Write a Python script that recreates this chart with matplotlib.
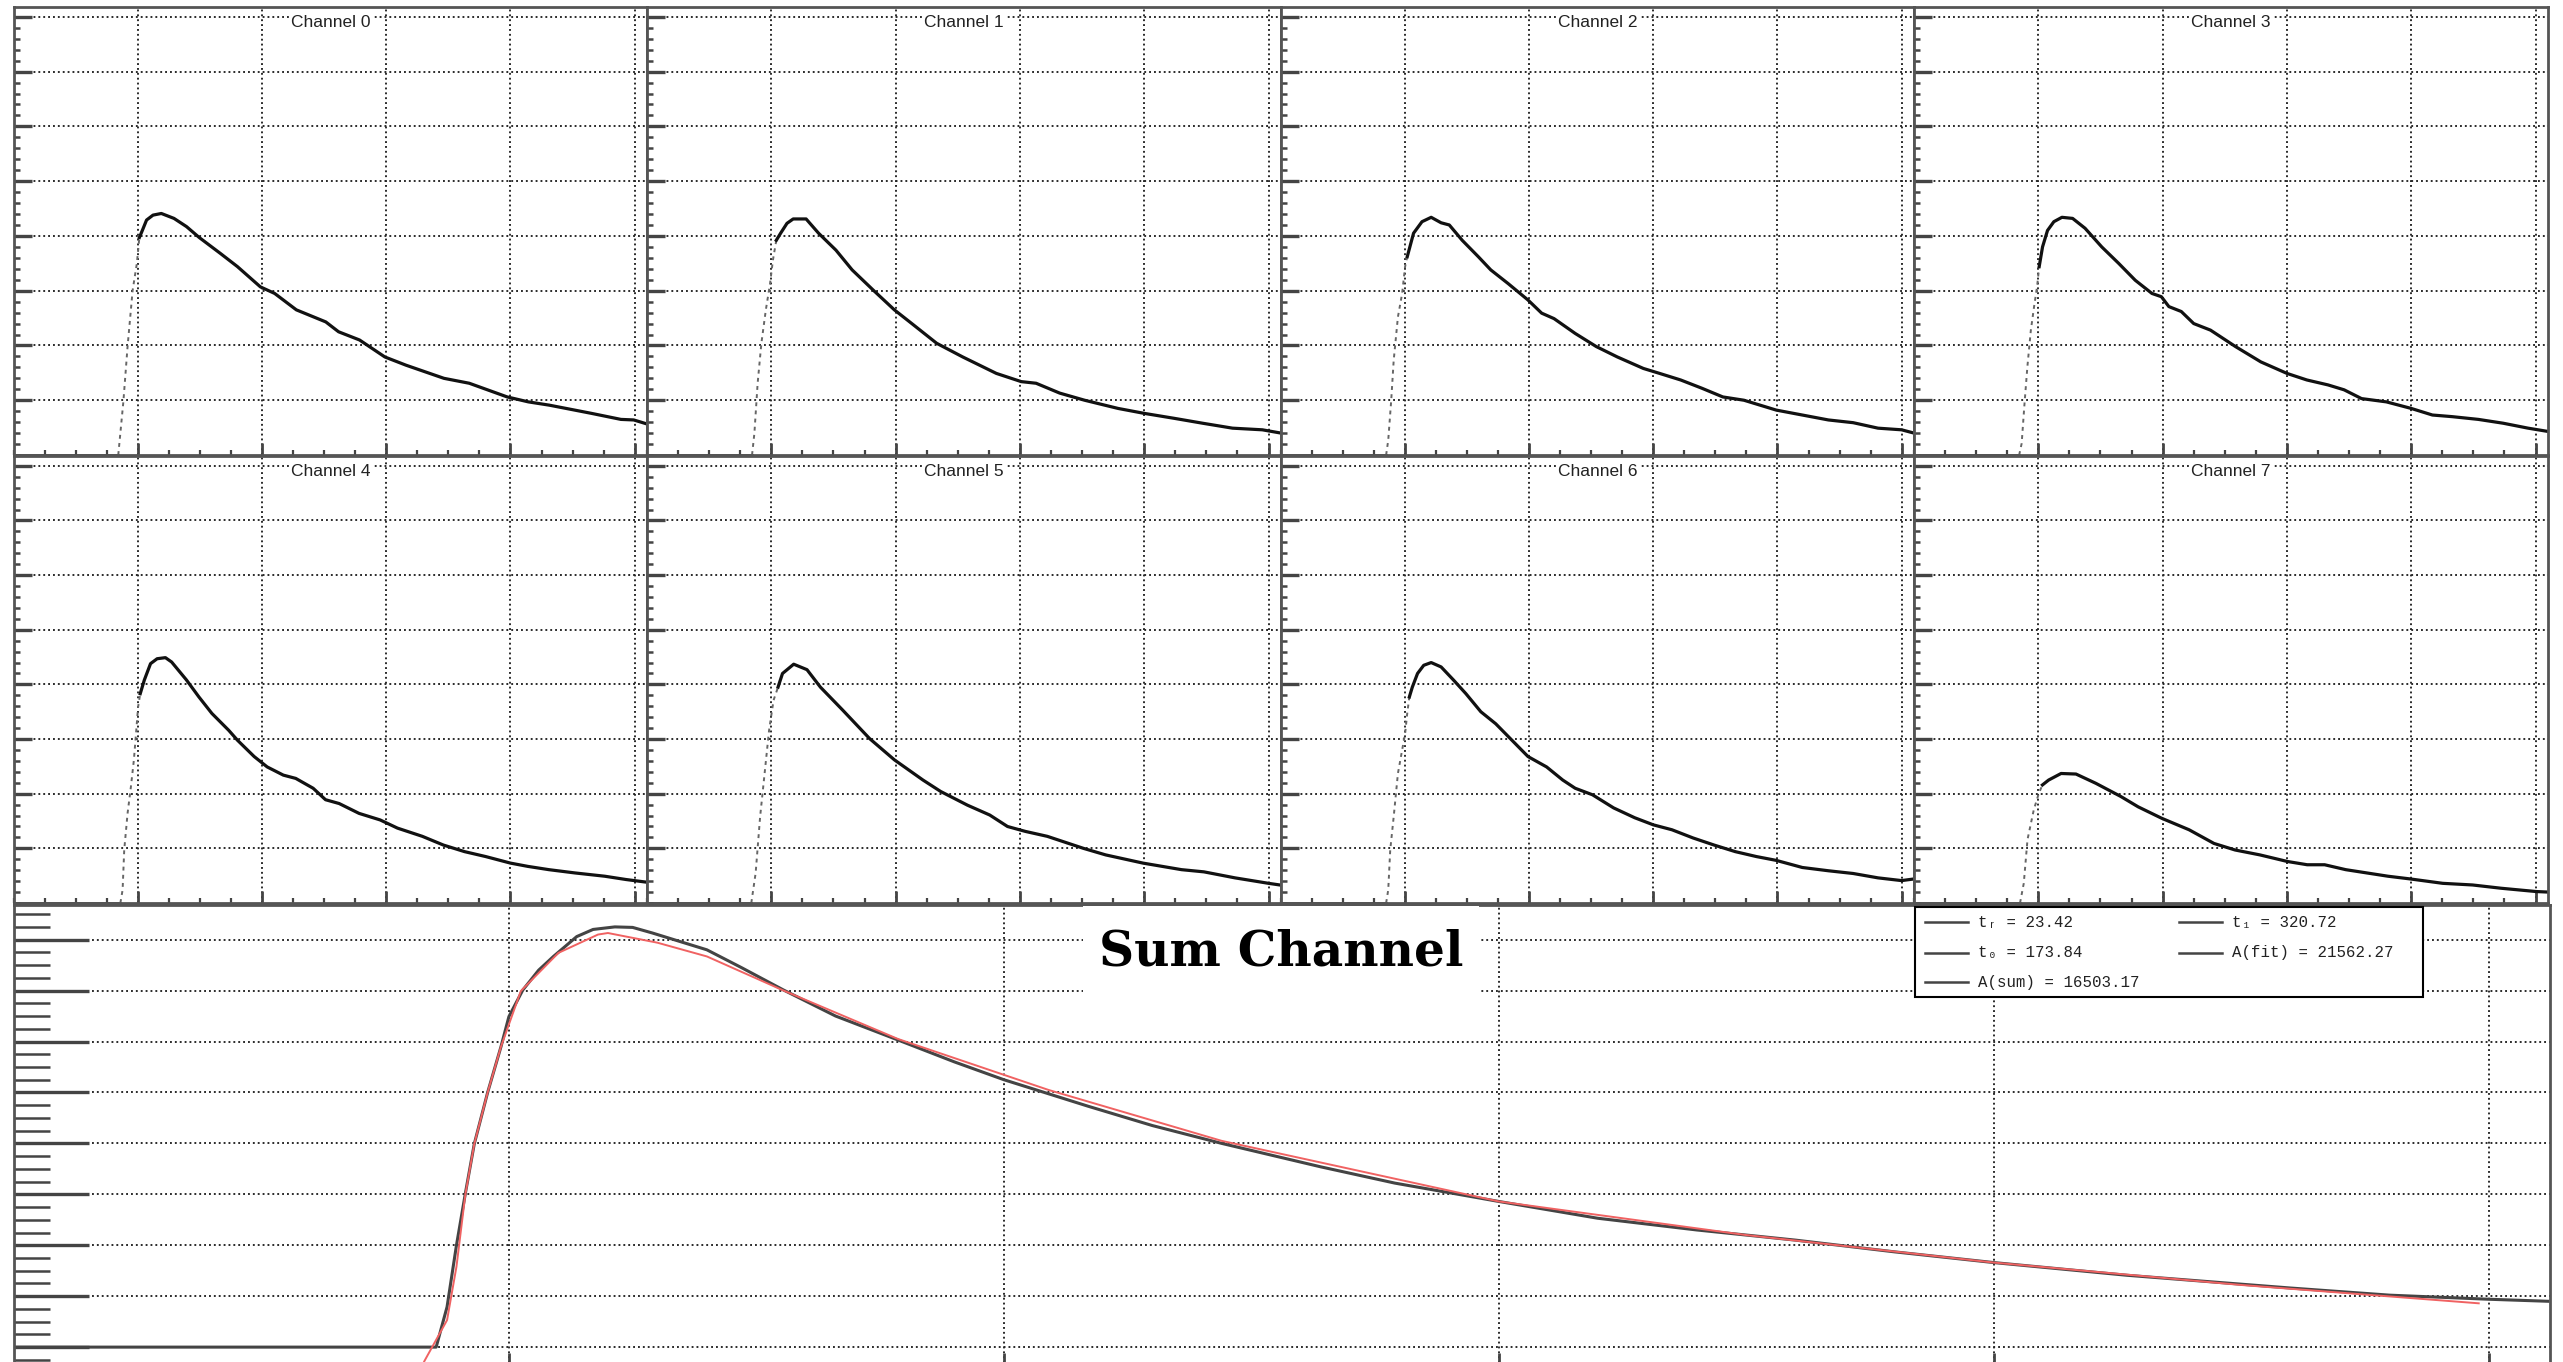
import numpy as np
import matplotlib.pyplot as plt
from matplotlib.patches import Rectangle

# waveforms (time in grid divisions, amplitude in divisions)
ch0_t = [0, 0.84, 0.881, 0.915, 0.956, 0.99, 1.01, 1.034, 1.068, 1.12, 1.187, 1.289, 1.39, 1.493, 1.663, 1.8, 1.985, 2.1, 2.275, 2.512, 2.615, 2.784, 2.988, 3.158, 3.464, 3.668, 3.974, 4.144, 4.313, 4.653, 4.89, 4.993, 5.095]
ch0_v = [0, 0, 0.97, 1.98, 3.01, 3.5, 3.97, 4.1, 4.29, 4.38, 4.41, 4.32, 4.17, 3.97, 3.68, 3.44, 3.07, 2.95, 2.65, 2.43, 2.25, 2.1, 1.79, 1.64, 1.4, 1.31, 1.06, 0.97, 0.91, 0.76, 0.65, 0.64, 0.57]
ch1_t = [0, 0.845, 0.864, 0.89, 0.92, 0.956, 0.99, 1.013, 1.04, 1.075, 1.126, 1.176, 1.28, 1.38, 1.52, 1.65, 1.82, 1.99, 2.13, 2.33, 2.54, 2.81, 3.01, 3.13, 3.32, 3.52, 3.79, 4.0, 4.24, 4.47, 4.71, 4.95, 5.1]
ch1_v = [0, 0, 0.4, 1.31, 2.04, 2.65, 3.13, 3.56, 3.92, 4.05, 4.23, 4.31, 4.31, 4.05, 3.74, 3.38, 3.01, 2.65, 2.4, 2.04, 1.79, 1.49, 1.34, 1.31, 1.13, 1.0, 0.85, 0.76, 0.67, 0.58, 0.49, 0.46, 0.4]
ch2_t = [0, 0.847, 0.864, 0.888, 0.908, 0.942, 0.976, 1.0, 1.017, 1.068, 1.136, 1.21, 1.29, 1.356, 1.46, 1.59, 1.69, 1.83, 1.99, 2.1, 2.2, 2.37, 2.54, 2.71, 2.92, 3.05, 3.22, 3.39, 3.56, 3.73, 3.99, 4.2, 4.41, 4.61, 4.81, 5.0, 5.1]
ch2_v = [0, 0, 0.27, 1.0, 1.73, 2.52, 2.95, 3.44, 3.62, 4.05, 4.26, 4.34, 4.24, 4.2, 3.92, 3.62, 3.38, 3.13, 2.83, 2.59, 2.49, 2.22, 1.98, 1.79, 1.58, 1.49, 1.37, 1.22, 1.06, 1.0, 0.82, 0.73, 0.64, 0.59, 0.49, 0.46, 0.4]
ch3_t = [0, 0.846, 0.866, 0.889, 0.912, 0.94, 0.966, 0.99, 1.007, 1.034, 1.074, 1.125, 1.19, 1.276, 1.376, 1.51, 1.646, 1.78, 1.914, 1.99, 2.05, 2.15, 2.25, 2.385, 2.586, 2.79, 3.0, 3.16, 3.33, 3.46, 3.6, 3.8, 4.0, 4.17, 4.33, 4.54, 4.74, 4.94, 5.1]
ch3_v = [0, 0, 0.21, 0.94, 1.61, 2.28, 2.71, 3.07, 3.44, 3.8, 4.1, 4.26, 4.34, 4.32, 4.14, 3.8, 3.5, 3.19, 2.95, 2.89, 2.71, 2.62, 2.4, 2.28, 1.98, 1.7, 1.49, 1.37, 1.28, 1.19, 1.03, 0.97, 0.85, 0.73, 0.7, 0.65, 0.58, 0.49, 0.43]
ch4_t = [0, 0.857, 0.875, 0.888, 0.915, 0.942, 0.966, 0.983, 1.0, 1.017, 1.05, 1.1, 1.153, 1.22, 1.27, 1.39, 1.49, 1.594, 1.73, 1.8, 1.935, 2.04, 2.17, 2.27, 2.41, 2.51, 2.62, 2.78, 2.95, 3.09, 3.29, 3.46, 3.63, 3.8, 4.0, 4.14, 4.31, 4.52, 4.76, 4.93, 5.1]
ch4_v = [0, 0, 0.24, 0.97, 1.64, 2.13, 2.62, 3.1, 3.59, 3.83, 4.08, 4.38, 4.47, 4.49, 4.41, 4.08, 3.77, 3.47, 3.16, 2.98, 2.68, 2.49, 2.34, 2.28, 2.1, 1.89, 1.82, 1.64, 1.52, 1.37, 1.22, 1.06, 0.94, 0.85, 0.73, 0.67, 0.61, 0.55, 0.49, 0.43, 0.38]
ch5_t = [0, 0.839, 0.874, 0.91, 0.946, 0.982, 1.018, 1.054, 1.09, 1.18, 1.287, 1.395, 1.574, 1.79, 1.99, 2.22, 2.363, 2.578, 2.757, 2.9, 3.044, 3.22, 3.511, 3.69, 3.99, 4.3, 4.48, 4.73, 5.0, 5.09]
ch5_v = [0, 0, 0.55, 1.58, 2.37, 3.16, 3.71, 3.95, 4.2, 4.37, 4.27, 3.95, 3.53, 3.01, 2.62, 2.25, 2.04, 1.79, 1.61, 1.4, 1.31, 1.22, 1.0, 0.88, 0.73, 0.61, 0.57, 0.46, 0.36, 0.33]
ch6_t = [0, 0.847, 0.864, 0.88, 0.908, 0.942, 0.976, 1.0, 1.017, 1.034, 1.058, 1.1, 1.15, 1.21, 1.29, 1.39, 1.49, 1.61, 1.73, 1.86, 1.99, 2.14, 2.27, 2.37, 2.51, 2.68, 2.85, 3.0, 3.15, 3.32, 3.49, 3.66, 3.83, 3.99, 4.2, 4.41, 4.61, 4.81, 5.0, 5.1]
ch6_v = [0, 0, 0.24, 0.97, 1.58, 2.37, 2.8, 3.1, 3.47, 3.77, 3.95, 4.2, 4.35, 4.4, 4.32, 4.08, 3.83, 3.5, 3.28, 2.98, 2.68, 2.49, 2.25, 2.1, 1.98, 1.74, 1.56, 1.43, 1.34, 1.19, 1.06, 0.94, 0.85, 0.78, 0.65, 0.59, 0.54, 0.46, 0.41, 0.44]
ch7_t = [0, 0.853, 0.883, 0.913, 0.963, 1.003, 1.033, 1.083, 1.183, 1.303, 1.463, 1.663, 1.803, 1.993, 2.213, 2.413, 2.583, 2.783, 3.003, 3.163, 3.303, 3.473, 3.643, 3.813, 3.993, 4.253, 4.493, 4.723, 5.003, 5.1]
ch7_v = [0, 0, 0.36, 1.16, 1.7, 2.0, 2.16, 2.25, 2.37, 2.36, 2.19, 1.95, 1.76, 1.55, 1.34, 1.09, 0.97, 0.88, 0.76, 0.7, 0.7, 0.61, 0.55, 0.49, 0.44, 0.36, 0.33, 0.27, 0.21, 0.2]

# where the fast (sparsely sampled) leading edge starts and ends
rise_start = [0.84, 0.845, 0.847, 0.846, 0.857, 0.839, 0.847, 0.853]
rise_end = [1.01, 1.04, 1.017, 1.007, 1.017, 1.054, 1.034, 1.033]

sum_t = [0, 0.853, 0.875, 0.894, 0.912, 0.93, 0.957, 0.984, 1.0, 1.028, 1.06, 1.09, 1.137, 1.17, 1.214, 1.25, 1.29, 1.34, 1.4, 1.47, 1.555, 1.66, 1.786, 1.9, 2.0, 2.17, 2.3, 2.44, 2.64, 2.79, 3.0, 3.2, 3.4, 3.6, 3.8, 4.0, 4.27, 4.6, 4.8, 5.0, 5.12]
sum_v = [0, 0, 0.79, 2.0, 3.02, 3.99, 5.0, 5.9, 6.49, 7.01, 7.4, 7.67, 8.06, 8.2, 8.25, 8.24, 8.13, 7.98, 7.8, 7.45, 7.01, 6.5, 6.03, 5.6, 5.25, 4.73, 4.35, 4.0, 3.54, 3.22, 2.86, 2.53, 2.3, 2.1, 1.87, 1.66, 1.41, 1.16, 1.02, 0.94, 0.9]
fit_t = [0.82, 0.83, 0.875, 0.894, 0.912, 0.93, 0.957, 0.984, 1.024, 1.1, 1.18, 1.2, 1.3, 1.4, 1.555, 1.786, 2.09, 2.44, 3.0, 3.5, 4.0, 4.5, 4.98]
fit_v = [-0.45, -0.26, 0.53, 1.58, 3.0, 3.99, 5.0, 5.9, 6.99, 7.74, 8.1, 8.13, 7.94, 7.67, 7.0, 6.05, 5.05, 4.05, 2.86, 2.2, 1.66, 1.22, 0.86]

fit_labels = ['tᵣ = 23.42', 't₀ = 173.84', 'A(sum) = 16503.17', 't₁ = 320.72', 'A(fit) = 21562.27']

channels = [(ch0_t, ch0_v), (ch1_t, ch1_v), (ch2_t, ch2_v), (ch3_t, ch3_v),
            (ch4_t, ch4_v), (ch5_t, ch5_v), (ch6_t, ch6_v), (ch7_t, ch7_v)]

W, H = 2563, 1362
fig = plt.figure(figsize=(W / 100, H / 100), dpi=100)
fig.patch.set_facecolor('white')

def px_axes(left, top, right, bottom):
    return fig.add_axes([left / W, 1 - bottom / H, (right - left) / W, (bottom - top) / H])

def style(ax, ymajor, yminor, xminor, ylen, yminlen, xlen):
    ax.set_xticks([1, 2, 3, 4, 5])
    ax.set_xticks(xminor, minor=True)
    ax.set_yticks(ymajor)
    ax.set_yticks(yminor, minor=True)
    ax.grid(True, which='major', color='#222222', linestyle=(0, (1, 1.6)), linewidth=1.35)
    ax.tick_params(which='both', direction='in', labelleft=False, labelbottom=False,
                   top=False, right=False, color='#444444')
    ax.tick_params(axis='y', which='major', length=ylen, width=2.4)
    ax.tick_params(axis='y', which='minor', length=yminlen, width=1.8)
    ax.tick_params(axis='x', which='major', length=xlen, width=2.0)
    ax.tick_params(axis='x', which='minor', length=xlen * 0.4, width=1.6)
    for s in ax.spines.values():
        s.set_color('#555555')
        s.set_linewidth(2.0)

col_px = [14, 647, 1281, 1914, 2548]
row_px = [(7, 455), (456, 903)]

for i, (t, v) in enumerate(channels):
    r, c = divmod(i, 4)
    top, bottom = row_px[r]
    ax = px_axes(col_px[c], top, col_px[c + 1], bottom)
    t = np.asarray(t)
    v = np.asarray(v)
    base = t <= rise_start[i]
    rise = (t >= rise_start[i]) & (t <= rise_end[i])
    tail = t >= rise_end[i]
    ax.plot(t[base], v[base], color='#222222', lw=1.8, clip_on=False)
    ax.plot(t[rise], v[rise], color='#666666', lw=1.4, linestyle=(0, (2, 2.2)))
    ax.plot(t[tail], v[tail], color='#111111', lw=2.3)
    ax.set_xlim(0, 5.1)
    ax.set_ylim(0, 8.18)
    style(ax, np.arange(1, 9), np.arange(0, 8.2, 0.2), np.arange(0, 5.1, 0.25), 13, 4.5, 8.5)
    ax.text(0.5, 0.966, f'Channel {i}', transform=ax.transAxes, ha='center', va='center',
            fontsize=12.5, family='Liberation Sans', color='#222222',
            bbox=dict(facecolor='white', edgecolor='none', pad=1.0))

# sum channel with the fit
axs = px_axes(14, 905, 2550, 1368)
axs.plot(sum_t, sum_v, color='#444444', lw=2.2)
axs.plot(fit_t, fit_v, color='#f06262', lw=1.4)
axs.set_xlim(0, 5.124)
axs.set_ylim(-0.41, 8.68)
style(axs, np.arange(0, 9), np.arange(-0.25, 8.7, 0.25), np.arange(0, 5.13, 0.25), 54, 26, 11)

# overlay in pixel coordinates for the title box and the fit-parameter box
ov = fig.add_axes([0, 0, 1, 1])
ov.set_xlim(0, W)
ov.set_ylim(H, 0)
ov.axis('off')

ov.add_patch(Rectangle((1083, 906), 396, 88, facecolor='white', edgecolor='none'))
ov.text(1281, 952, 'Sum Channel', ha='center', va='center', fontsize=35,
        family='DejaVu Serif', fontweight='bold', color='black')

ov.add_patch(Rectangle((1915, 907), 508, 90, facecolor='white', edgecolor='black', lw=1.5))
col_x = [1925, 1925, 1925, 2179, 2179]
row_y = [922, 953, 982, 922, 953]
for lab, x, y in zip(fit_labels, col_x, row_y):
    ov.plot([x, x + 43], [y, y], color='#444444', lw=1.8)
    ov.text(x + 53, y, lab, ha='left', va='center', fontsize=11.3,
            family=['Liberation Mono', 'DejaVu Sans Mono', 'DejaVu Sans'], color='#222222')

plt.savefig('out.png', dpi=100)
